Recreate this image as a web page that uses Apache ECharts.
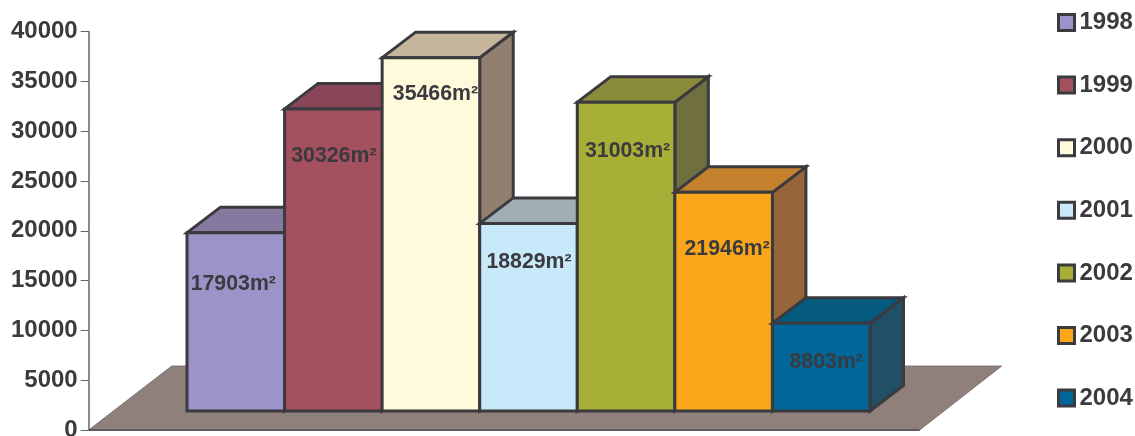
<!DOCTYPE html>
<html><head><meta charset="utf-8">
<style>html,body{margin:0;padding:0;background:#fff}#c{width:1135px;height:436px}</style>
<script src="https://cdn.jsdelivr.net/npm/echarts@6/dist/echarts.min.js"></script>
</head><body><div id="c"></div>
<script>
const years = ['1998','1999','2000','2001','2002','2003','2004'];
const areas = [17903,30326,35466,18829,31003,21946,8803];
const frontColors = ['#9C94C8','#A5505F','#FFFADB','#C8E9FA','#A8AF37','#F9A61B','#016699'];
const topColors = ['#85799F','#8B4558','#C4B59B','#9FAFB5','#8A8C3A','#C5822E','#055A7F'];
const sideColors = ['#716A8C','#743A4A','#918070','#7F9099','#6F6F3F','#96663A','#214F66'];
// label nudges from each bar's front-top centre, in pixels
const labelDx = [-2.5,0.5,4.5,0.5,1.5,3.5,5];
const labelDy = [51.5,47.5,36.5,39,49,57,38.5];

const INK = '#3A3A3F', DEPTH_X = 33.5, DEPTH_Y = -25.5, LIFT = 19, AXIS_GAP = 98.3;

function barRender(i){
  return function(params, api){
    const val = api.value(1);
    const b = api.coord([i, 0]), t = api.coord([i, val]);
    const w = api.size([1, 0])[0];
    const x0 = b[0] - w/2, x1 = b[0] + w/2, yb = b[1] - LIFT, yt = t[1] - LIFT;
    const line = {stroke: INK, lineWidth: 3, lineJoin: 'miter'};
    return {type:'group', children:[
      {type:'polygon', shape:{points:[[x1,yb],[x1+DEPTH_X,yb+DEPTH_Y],[x1+DEPTH_X,yt+DEPTH_Y],[x1,yt]]}, style:Object.assign({fill:sideColors[i]},line)},
      {type:'polygon', shape:{points:[[x0,yt],[x1,yt],[x1+DEPTH_X,yt+DEPTH_Y],[x0+DEPTH_X,yt+DEPTH_Y]]}, style:Object.assign({fill:topColors[i]},line)},
      {type:'rect', shape:{x:x0,y:yt,width:w,height:yb-yt}, style:Object.assign({fill:frontColors[i]},line)},
      {type:'text', style:{text:val+'m²', x:b[0]+labelDx[i], y:yt+labelDy[i], align:'center', verticalAlign:'middle',
        font:'bold 21.3px "Liberation Sans", Arial, sans-serif', fill:INK}}
    ]};
  };
}

function floorRender(params, api){
  const o = api.coord([0, 0]), c = params.coordSys;
  const xl = c.x - AXIS_GAP, y0 = o[1];
  return {type:'group', children:[
    {type:'polygon', shape:{points:[[xl,y0],[xl+831,y0],[xl+913,y0-64],[xl+83,y0-64]]}, style:{fill:'#8F807B', stroke:'#6E6668', lineWidth:0.8}},
    {type:'line', shape:{x1:xl,y1:y0,x2:xl+831,y2:y0}, style:{stroke:'#5F5A5E', lineWidth:2}}
  ]};
}

const series = [{type:'custom', name:'floor', silent:true, clip:false, animation:false, coordinateSystem:'cartesian2d',
  renderItem:floorRender, data:[[0,0]]}];
years.forEach((y,i)=>series.push({type:'custom', name:y, clip:false, silent:true, animation:false, coordinateSystem:'cartesian2d',
  itemStyle:{color:frontColors[i]}, renderItem:barRender(i), data:[[i,areas[i]]]}));

const chart = echarts.init(document.getElementById('c'), null, {renderer:'canvas'});
chart.setOption({
  animation:false,
  backgroundColor:'#fff',
  textStyle:{fontFamily:'"Liberation Sans", Arial, sans-serif'},
  grid:{left:187, top:31.5, width:683, height:398.5, containLabel:false, outerBoundsMode:'none'},
  xAxis:{type:'category', data:years, show:false},
  yAxis:{type:'value', min:0, max:40000, interval:5000, offset:AXIS_GAP,
    axisLine:{show:true, onZero:false, lineStyle:{color:'#666669', width:1.5}},
    axisTick:{show:true, length:8, lineStyle:{color:'#666669', width:1}},
    splitLine:{show:false},
    axisLabel:{margin:11, fontSize:24, fontWeight:'bold', color:INK, fontFamily:'"Liberation Sans", Arial, sans-serif',
      formatter:v=>String(v)}},
  legend:{orient:'vertical', left:1057, top:10.5, padding:0, itemWidth:16, itemHeight:16, itemGap:38.6, selectedMode:false,
    textStyle:{fontSize:24, fontWeight:'bold', color:INK, lineHeight:16, padding:0},
    data:years.map((y,i)=>({name:y, icon:'rect', itemStyle:{color:frontColors[i], borderColor:INK, borderWidth:3}}))},
  series
});
</script></body></html>
